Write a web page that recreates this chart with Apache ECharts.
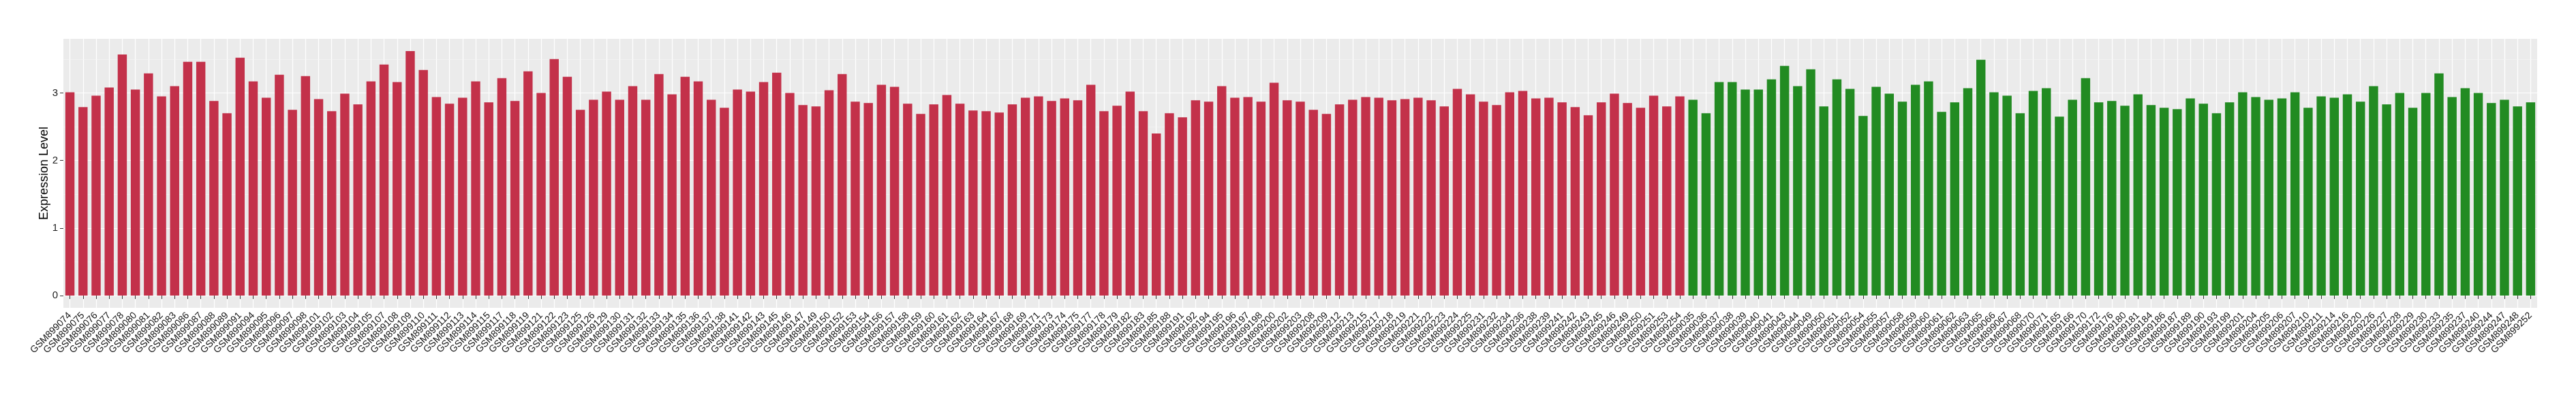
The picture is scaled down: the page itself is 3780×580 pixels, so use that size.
<!DOCTYPE html>
<html>
<head>
<meta charset="utf-8">
<script src="https://cdn.jsdelivr.net/npm/echarts@6/dist/echarts.min.js"></script>
<style>
html,body{margin:0;padding:0;background:#fff;}
#chart{width:3780px;height:580px;}
</style>
</head>
<body>
<div id="chart"></div>
<script>
const redSamples = ["GSM899074","GSM899075","GSM899076","GSM899077","GSM899078","GSM899080","GSM899081","GSM899082","GSM899083","GSM899086","GSM899087","GSM899088","GSM899089","GSM899091","GSM899094","GSM899095","GSM899096","GSM899097","GSM899098","GSM899101","GSM899102","GSM899103","GSM899104","GSM899105",
"GSM899107","GSM899108","GSM899109","GSM899110","GSM899111","GSM899112","GSM899113","GSM899114","GSM899115","GSM899117","GSM899118","GSM899119","GSM899121","GSM899122","GSM899123","GSM899125","GSM899126","GSM899129","GSM899130","GSM899131","GSM899132","GSM899133","GSM899134",
"GSM899135","GSM899136","GSM899137","GSM899138","GSM899141","GSM899142","GSM899143","GSM899145","GSM899146","GSM899147","GSM899149","GSM899150","GSM899152","GSM899153","GSM899154","GSM899156","GSM899157","GSM899158","GSM899159","GSM899160","GSM899161","GSM899162","GSM899163","GSM899164",
"GSM899167","GSM899168","GSM899169","GSM899171","GSM899173","GSM899174","GSM899175","GSM899177","GSM899178","GSM899179","GSM899182","GSM899183","GSM899185","GSM899188","GSM899191","GSM899192","GSM899194","GSM899195","GSM899196","GSM899197","GSM899198","GSM899200","GSM899202","GSM899203",
"GSM899208","GSM899209","GSM899212","GSM899213","GSM899215","GSM899217","GSM899218","GSM899219","GSM899221","GSM899222","GSM899223","GSM899224","GSM899225","GSM899231","GSM899232","GSM899234","GSM899236","GSM899238","GSM899239","GSM899241","GSM899242","GSM899243","GSM899245","GSM899246",
"GSM899249","GSM899250","GSM899251","GSM899253","GSM899254"];
const redValues = [3.01,2.79,2.96,3.08,3.57,3.05,3.29,2.95,3.10,3.46,3.46,2.88,2.70,3.52,3.17,2.93,3.27,2.75,3.25,2.91,2.73,2.99,2.83,3.17,
3.42,3.16,3.62,3.34,2.94,2.84,2.93,3.17,2.86,3.22,2.88,3.32,3.00,3.50,3.24,2.75,2.90,3.02,2.90,3.10,2.90,3.28,2.98,
3.24,3.17,2.90,2.78,3.05,3.02,3.16,3.30,3.00,2.82,2.80,3.04,3.28,2.87,2.85,3.12,3.09,2.84,2.69,2.83,2.97,2.84,2.74,2.73,
2.71,2.83,2.93,2.95,2.88,2.92,2.89,3.12,2.73,2.81,3.02,2.73,2.40,2.70,2.64,2.89,2.87,3.10,2.93,2.94,2.87,3.15,2.89,2.87,
2.75,2.69,2.83,2.90,2.94,2.93,2.89,2.91,2.93,2.89,2.80,3.06,2.98,2.87,2.82,3.01,3.03,2.92,2.93,2.86,2.79,2.67,2.86,2.99,
2.85,2.78,2.96,2.80,2.95];
const greenSamples = ["GSM899035","GSM899036","GSM899037","GSM899038","GSM899039","GSM899040","GSM899041","GSM899043","GSM899044","GSM899049","GSM899050","GSM899051","GSM899052","GSM899054","GSM899055","GSM899057","GSM899058","GSM899059",
"GSM899060","GSM899061","GSM899062","GSM899063","GSM899065","GSM899066","GSM899067","GSM899068","GSM899070","GSM899071","GSM899165","GSM899166","GSM899170","GSM899172","GSM899176","GSM899180","GSM899181","GSM899184","GSM899186","GSM899187","GSM899189","GSM899190","GSM899193","GSM899199",
"GSM899201","GSM899204","GSM899205","GSM899206","GSM899207","GSM899210","GSM899211","GSM899214","GSM899216","GSM899220","GSM899226","GSM899227","GSM899228","GSM899229","GSM899230","GSM899233","GSM899235","GSM899237","GSM899240","GSM899244","GSM899247","GSM899248","GSM899252"];
const greenValues = [2.90,2.70,3.16,3.16,3.05,3.05,3.20,3.40,3.10,3.35,2.80,3.20,3.06,2.66,3.09,2.99,2.87,3.12,
3.17,2.72,2.86,3.07,3.49,3.01,2.96,2.70,3.03,3.07,2.65,2.90,3.22,2.86,2.88,2.81,2.98,2.82,2.78,2.76,2.92,2.84,2.70,2.86,
3.01,2.94,2.90,2.92,3.01,2.78,2.95,2.93,2.98,2.87,3.10,2.83,3.00,2.78,3.00,3.29,2.94,3.07,3.00,2.85,2.90,2.80,2.86];
const yTickValues = [0, 1, 2, 3];
const yMinorValues = [0.5, 1.5, 2.5, 3.5];
const yTitle = "Expression Level";

const categories = redSamples.concat(greenSamples);
const redData = redValues.concat(greenSamples.map(() => null));
const greenData = redSamples.map(() => null).concat(greenValues);

const FONT = "'Liberation Sans', Arial, Helvetica, sans-serif";
const chart = echarts.init(document.getElementById('chart'), null, {renderer: 'canvas'});
chart.setOption({
  animation: false,
  backgroundColor: '#ffffff',
  grid: {
    left: 93, right: 57, top: 57, bottom: 128,
    show: true, backgroundColor: '#EBEBEB', borderWidth: 0
  },
  xAxis: {
    type: 'category',
    data: categories,
    boundaryGap: true,
    axisLine: {show: false},
    axisTick: {show: true, alignWithLabel: true, interval: 0, length: 5, lineStyle: {color: '#333333', width: 1}},
    axisLabel: {interval: 0, rotate: 45, fontSize: 14, color: '#111111', fontFamily: FONT, margin: 9},
    splitLine: {show: true, interval: 0, alignWithLabel: true, lineStyle: {color: '#ffffff', width: 1.2}}
  },
  yAxis: {
    type: 'value',
    min: -0.181,
    max: 3.801,
    name: yTitle,
    nameLocation: 'middle',
    nameGap: 19,
    nameMoveOverlap: false,
    nameRotate: 90,
    nameTextStyle: {fontSize: 18, color: '#000000', fontFamily: FONT},
    axisLine: {show: false},
    axisTick: {show: true, length: 5, customValues: yTickValues, lineStyle: {color: '#333333', width: 1}},
    axisLabel: {customValues: yTickValues, fontSize: 15, color: '#1a1a1a', fontFamily: FONT, margin: 8},
    splitLine: {show: true, lineStyle: {color: '#ffffff', width: 1.2}}
  },
  series: [
    {
      type: 'bar',
      name: 'red',
      data: redData,
      barCategoryGap: '30%',
      barGap: '-100%',
      itemStyle: {color: '#C3314A'},
      markLine: {
        silent: true,
        symbol: ['none', 'none'],
        z: 1,
        label: {show: false},
        lineStyle: {color: '#F5F5F5', width: 0.7, type: 'solid'},
        data: yMinorValues.map(v => ({yAxis: v}))
      }
    },
    {
      type: 'bar',
      name: 'green',
      data: greenData,
      barCategoryGap: '30%',
      barGap: '-100%',
      itemStyle: {color: '#228B22'}
    }
  ]
});
</script>
</body>
</html>
